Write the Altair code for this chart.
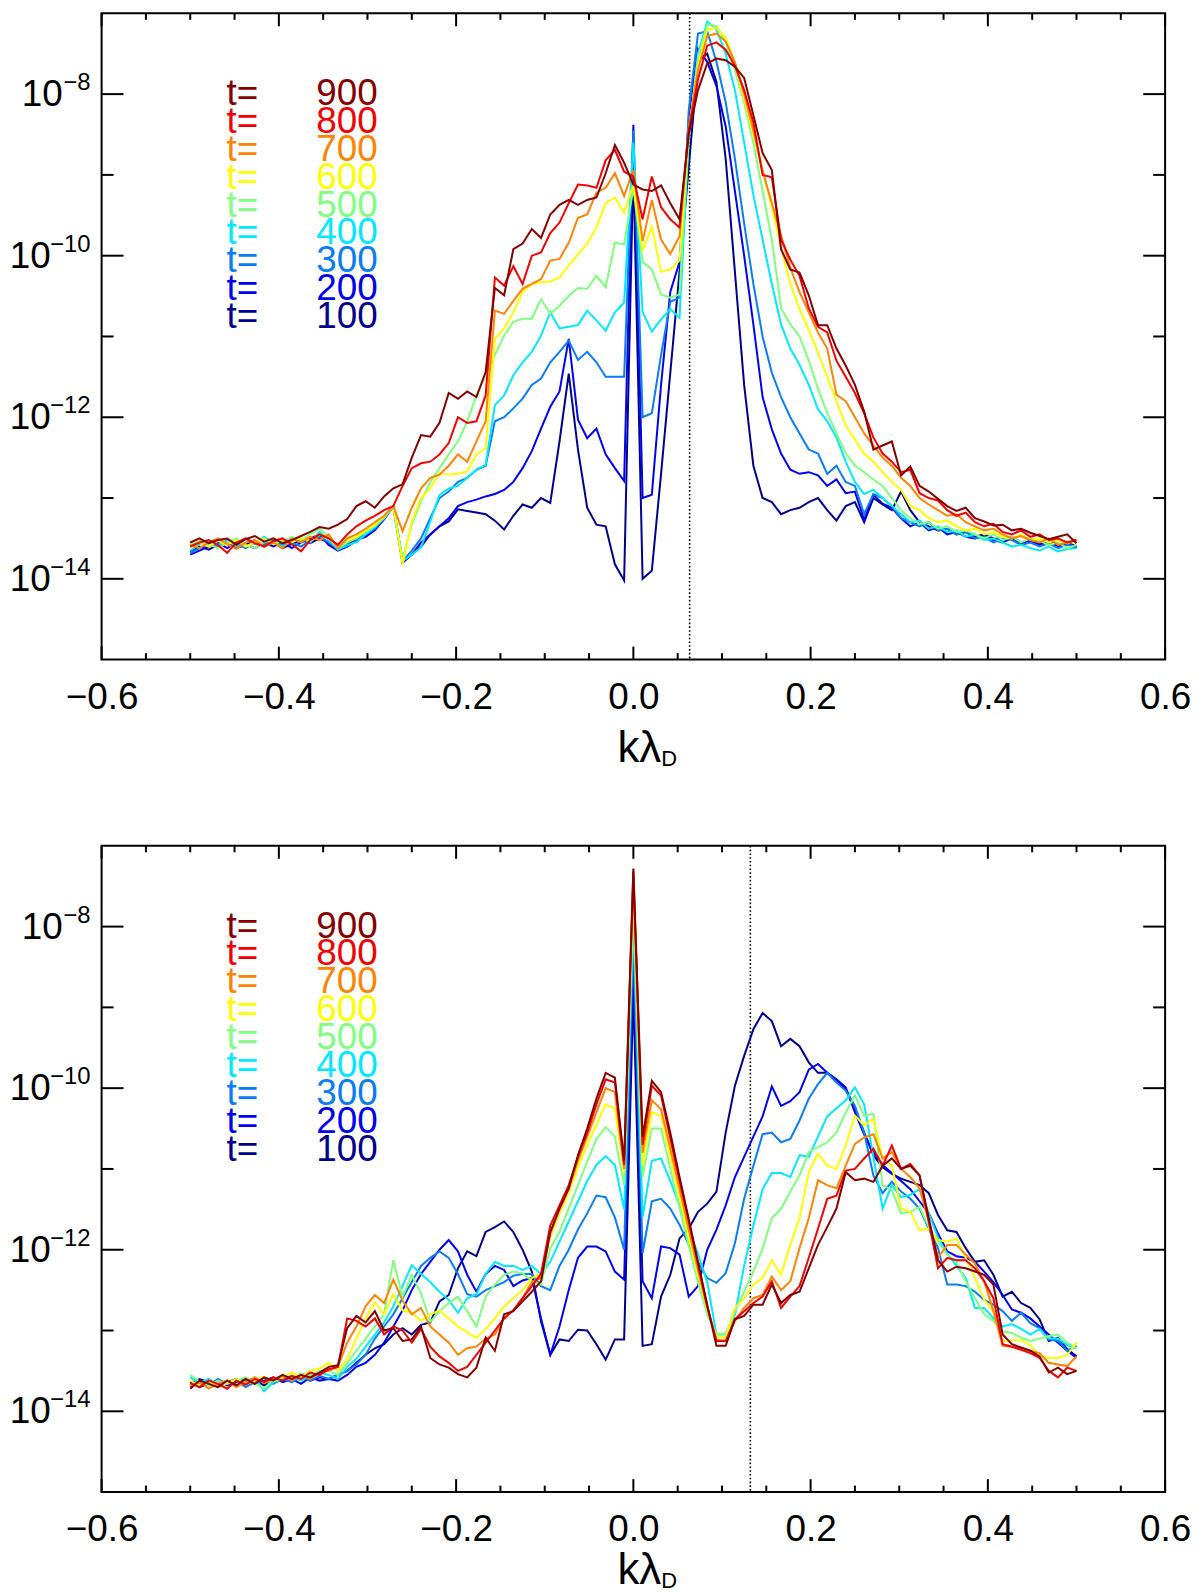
import altair as alt
import pandas as pd

FONT = "Liberation Sans"

# wavenumber grid k = n/96, n = -48..48
N_IDX = list(range(-48, 49))
K = [n / 96 for n in N_IDX]
TIMES = [100, 200, 300, 400, 500, 600, 700, 800, 900]
COLORS = ["#00008a", "#0000f0", "#0a7cf5", "#00e8ff", "#80ff80",
          "#ffff00", "#ff8400", "#f00000", "#840000"]

# ---- top panel, log10 of spectrum ----
top_t900 = [
    -13.55, -13.50, -13.56, -13.52, -13.50, -13.58, -13.51, -13.47, -13.54, -13.50, -13.56, -13.52, -13.47, -13.42, -13.36, -13.38, -13.33, -13.26, -13.10, -13.04, -13.12, -12.98,
    -12.88, -12.83, -12.50, -12.22, -12.24, -12.07, -11.70, -11.77, -11.68, -11.75, -11.44, -10.40, -10.49, -9.92, -9.85, -9.67, -9.78, -9.49, -9.37, -9.31, -9.37, -9.31, -9.28, -8.98, -8.63, -8.85,
    -9.12,
    -9.18, -9.20, -9.13, -9.35, -9.55, -8.50, -7.95, -7.62, -7.56, -7.58, -7.66, -7.80, -8.26, -8.73, -8.94, -9.92, -10.17, -10.21, -10.49, -10.86, -10.86, -11.15, -11.36, -11.60,
    -11.93, -12.40, -12.35, -12.30, -12.72, -12.61, -12.85, -12.92, -13.01, -13.10, -13.16, -13.12, -13.25, -13.29, -13.34, -13.33, -13.40, -13.38, -13.43, -13.47, -13.51, -13.48, -13.45, -13.56]
top_t800 = [
    -13.60, -13.55, -13.52, -13.58, -13.68, -13.55, -13.50, -13.56, -13.60, -13.53, -13.50, -13.57, -13.66, -13.52, -13.45, -13.50, -13.58, -13.45, -13.35, -13.28, -13.22, -13.15,
    -13.10, -12.85, -12.63, -12.57, -12.55, -12.46, -12.32, -12.00, -12.07, -12.05, -11.73, -10.27, -10.37, -10.13, -10.35, -10.00, -9.96, -9.72, -9.59, -9.35, -9.12, -9.13, -9.16, -8.82, -8.69, -8.96,
    -9.02,
    -9.55, -9.02, -9.40, -9.55, -9.65, -8.45, -7.82, -7.40, -7.36, -7.45, -7.65, -7.95, -8.35, -9.00, -9.03, -9.80, -10.05, -10.25, -10.65, -10.88, -10.95, -11.30, -11.50, -11.70,
    -11.95, -12.25, -12.45, -12.55, -12.68, -12.65, -12.94, -13.00, -13.03, -13.15, -13.22, -13.18, -13.30, -13.35, -13.32, -13.42, -13.45, -13.40, -13.48, -13.45, -13.52, -13.50, -13.55, -13.52]
top_t700 = [
    -13.58, -13.62, -13.55, -13.50, -13.57, -13.63, -13.55, -13.52, -13.60, -13.55, -13.62, -13.50, -13.55, -13.48, -13.52, -13.45, -13.62, -13.50, -13.45, -13.38, -13.30, -13.22,
    -13.10, -13.41, -13.12, -12.88, -12.75, -12.71, -12.60, -12.46, -12.55, -12.30, -12.05, -10.68, -10.72, -10.56, -10.41, -10.35, -10.29, -10.06, -10.04, -9.84, -9.53, -9.49, -9.22, -9.16, -8.98, -9.26,
    -8.94,
    -9.82, -9.31, -9.80, -9.98, -9.76, -8.42, -7.70, -7.28, -7.25, -7.35, -7.60, -8.00, -8.45, -8.95, -9.35, -9.75, -10.15, -10.45, -10.70, -10.95, -11.15, -11.72, -11.80, -12.00,
    -12.20, -12.35, -12.50, -12.60, -12.75, -12.85, -13.00, -13.08, -13.15, -13.22, -13.20, -13.30, -13.35, -13.40, -13.38, -13.45, -13.50, -13.47, -13.52, -13.55, -13.50, -13.58, -13.55, -13.52]
top_t600 = [
    -13.62, -13.55, -13.60, -13.53, -13.58, -13.52, -13.60, -13.55, -13.50, -13.57, -13.52, -13.55, -13.49, -13.53, -13.45, -13.50, -13.60, -13.52, -13.48, -13.40, -13.33, -13.22,
    -13.10, -13.82, -13.29, -13.00, -12.88, -12.69, -12.71, -12.70, -12.67, -12.46, -12.38, -11.03, -10.90, -10.70, -10.45, -10.35, -10.33, -10.32, -10.27, -10.12, -9.98, -9.85, -9.65, -9.35, -9.28, -9.47,
    -9.12,
    -9.94, -9.64, -10.20, -10.17, -10.06, -8.45, -7.65, -7.20, -7.18, -7.30, -7.62, -8.05, -8.50, -8.95, -9.40, -9.90, -10.35, -10.66, -10.92, -11.20, -11.50, -11.80, -12.10, -12.28,
    -12.45, -12.55, -12.68, -12.80, -12.90, -13.10, -13.15, -13.25, -13.30, -13.28, -13.35, -13.40, -13.38, -13.45, -13.42, -13.48, -13.50, -13.45, -13.52, -13.50, -13.55, -13.52, -13.56, -13.53]
top_t500 = [
    -13.58, -13.53, -13.57, -13.62, -13.55, -13.50, -13.58, -13.62, -13.55, -13.50, -13.54, -13.48, -13.52, -13.45, -13.38, -13.48, -13.62, -13.55, -13.50, -13.42, -13.35, -13.25,
    -13.10, -13.75, -13.33, -13.04, -12.80, -12.63, -12.46, -12.30, -12.05, -11.73, -11.48, -11.23, -10.99, -10.82, -10.78, -10.78, -10.54, -10.72, -10.62, -10.50, -10.40, -10.41, -10.25, -10.39, -9.84, -9.86,
    -9.16,
    -10.08, -10.17, -10.48, -10.52, -10.48, -8.50, -7.55, -7.14, -7.16, -7.35, -7.70, -8.10, -8.60, -9.20, -9.80, -10.65, -10.85, -11.00, -11.30, -11.65, -11.95, -12.20, -12.45, -12.60,
    -12.68, -12.77, -12.85, -13.00, -13.15, -13.25, -13.32, -13.30, -13.38, -13.35, -13.42, -13.40, -13.45, -13.50, -13.45, -13.52, -13.48, -13.55, -13.50, -13.53, -13.58, -13.55, -13.62, -13.58]
top_t400 = [
    -13.65, -13.57, -13.52, -13.58, -13.53, -13.60, -13.50, -13.57, -13.48, -13.55, -13.60, -13.53, -13.50, -13.55, -13.42, -13.52, -13.64, -13.58, -13.55, -13.45, -13.36, -13.24,
    -13.10, -13.78, -13.70, -13.61, -13.29, -12.96, -12.88, -12.85, -12.75, -12.65, -12.59, -11.85, -11.73, -11.48, -11.32, -11.19, -10.99, -10.70, -10.90, -10.88, -10.86, -10.68, -10.80, -10.93, -10.70, -10.58,
    -8.60,
    -10.70, -10.94, -10.79, -10.66, -10.77, -8.55, -7.50, -7.10, -7.20, -7.50, -7.95, -8.60, -9.25, -9.80, -10.35, -10.85, -11.15, -11.35, -11.60, -11.90, -12.05, -12.25, -12.55, -12.80,
    -12.95, -12.90, -13.00, -13.10, -13.20, -13.30, -13.28, -13.38, -13.35, -13.42, -13.40, -13.48, -13.45, -13.52, -13.50, -13.55, -13.60, -13.58, -13.62, -13.65, -13.60, -13.66, -13.63, -13.62]
top_t300 = [
    -13.68, -13.62, -13.57, -13.60, -13.52, -13.57, -13.62, -13.55, -13.58, -13.52, -13.58, -13.55, -13.60, -13.52, -13.48, -13.55, -13.62, -13.60, -13.53, -13.45, -13.38, -13.25,
    -13.10, -13.78, -13.65, -13.50, -13.25, -13.00, -12.92, -12.80, -12.75, -12.65, -12.60, -12.05, -12.00, -11.89, -11.77, -11.60, -11.52, -11.32, -11.19, -11.05, -11.29, -11.19, -11.32, -11.50, -11.50, -11.50,
    -8.45,
    -12.00, -11.95, -11.23, -10.57, -10.52, -8.20, -7.25, -7.22, -7.60, -8.10, -8.80, -9.60, -10.35, -11.00, -11.45, -11.75, -12.00, -12.20, -12.40, -12.45, -12.70, -12.60, -12.80, -12.85,
    -13.20, -12.95, -13.00, -13.10, -13.25, -13.30, -13.35, -13.30, -13.40, -13.38, -13.45, -13.42, -13.50, -13.48, -13.55, -13.50, -13.52, -13.58, -13.55, -13.60, -13.56, -13.62, -13.58, -13.60]
top_t200 = [
    -13.70, -13.65, -13.60, -13.55, -13.62, -13.55, -13.58, -13.62, -13.55, -13.60, -13.55, -13.62, -13.55, -13.50, -13.45, -13.58, -13.65, -13.60, -13.52, -13.48, -13.40, -13.26,
    -13.10, -13.80, -13.70, -13.55, -13.45, -13.35, -13.25, -13.10, -13.05, -13.02, -12.98, -12.95, -12.90, -12.80, -12.63, -12.42, -12.14, -11.87, -11.68, -11.03, -12.03, -12.26, -12.14, -12.46, -12.63, -12.79,
    -8.38,
    -13.00, -12.96, -11.60, -10.45, -10.08, -8.30, -7.44, -7.60, -7.90, -8.40, -9.20, -10.00, -10.85, -11.75, -12.15, -12.45, -12.65, -12.70, -12.68, -12.72, -12.85, -12.77, -12.94, -12.92,
    -13.27, -12.96, -13.07, -13.12, -13.25, -13.35, -13.30, -13.40, -13.36, -13.45, -13.42, -13.48, -13.50, -13.46, -13.52, -13.55, -13.50, -13.56, -13.53, -13.58, -13.55, -13.60, -13.57, -13.62]
top_t100 = [
    -13.66, -13.60, -13.64, -13.58, -13.55, -13.62, -13.58, -13.52, -13.60, -13.55, -13.62, -13.57, -13.52, -13.56, -13.50, -13.55, -13.63, -13.58, -13.50, -13.46, -13.38, -13.26,
    -13.10, -13.80, -13.70, -13.60, -13.45, -13.35, -13.29, -13.14, -13.16, -13.18, -13.20, -13.28, -13.39, -13.22, -13.08, -13.12, -13.00, -13.06, -12.30, -11.46, -12.40, -13.12, -13.33, -13.35, -13.82, -14.02,
    -8.90,
    -14.00, -13.90, -12.70, -11.45, -10.20, -8.90, -7.60, -7.50, -7.85, -8.80, -10.20, -11.60, -12.60, -13.00, -13.05, -13.20, -13.15, -13.12, -13.05, -13.00, -13.15, -13.28, -13.10, -13.05,
    -13.30, -13.00, -13.08, -13.15, -12.92, -13.15, -13.30, -13.35, -13.40, -13.38, -13.45, -13.42, -13.48, -13.45, -13.50, -13.52, -13.48, -13.55, -13.52, -13.57, -13.54, -13.58, -13.55, -13.60]

# ---- bottom panel, log10 of spectrum ----
bot_t900 = [
    -13.72, -13.62, -13.66, -13.70, -13.62, -13.68, -13.60, -13.66, -13.58, -13.62, -13.55, -13.60, -13.55, -13.58, -13.52, -13.45,
    -13.43, -12.97, -12.82, -12.90, -12.76, -13.00, -12.97, -13.13, -13.11, -12.95, -13.34, -13.42, -13.46, -13.54, -13.58, -13.46,
    -13.09, -13.25, -12.80, -12.76, -12.64, -12.52, -12.39, -11.78, -11.49, -11.24, -10.83, -10.50, -10.13, -9.81, -9.87, -10.90,
    -7.28,
    -10.60, -9.91, -10.05, -10.55, -11.10, -11.62, -12.15, -12.68, -13.19, -13.19, -12.86, -12.82, -12.68, -12.68, -12.43, -12.66, -12.56, -12.52, -12.23, -11.94, -11.72, -11.49, -11.04, -11.14,
    -11.12, -11.16, -10.96, -10.87, -11.00, -10.96, -11.08, -11.61, -12.13, -12.27, -12.21, -12.23, -12.27, -12.31, -12.43, -13.05, -13.17, -13.21, -13.25, -13.32, -13.52, -13.46, -13.54, -13.50]
bot_t800 = [
    -13.65, -13.70, -13.62, -13.66, -13.72, -13.62, -13.67, -13.60, -13.64, -13.58, -13.62, -13.56, -13.60, -13.52, -13.55, -13.48,
    -13.45, -12.85, -12.88, -12.95, -12.85, -13.05, -12.95, -13.00, -13.15, -12.98, -13.20, -13.32, -13.40, -13.50, -13.45, -13.30,
    -13.15, -13.00, -12.85, -12.75, -12.60, -12.45, -12.30, -11.70, -11.45, -11.20, -10.85, -10.55, -10.20, -9.89, -9.93, -10.95,
    -7.32,
    -10.70, -9.97, -10.09, -10.62, -11.15, -11.65, -12.18, -12.70, -13.13, -13.13, -12.86, -12.76, -12.66, -12.58, -12.39, -12.72, -12.58, -12.45, -12.10, -11.74, -11.37, -11.33, -11.02, -11.00,
    -10.87, -10.75, -10.96, -10.71, -11.00, -10.94, -11.08, -11.65, -12.23, -12.10, -12.13, -12.13, -12.23, -12.39, -12.60, -13.17, -13.20, -13.24, -13.28, -13.34, -13.50, -13.58, -13.46, -13.50]
bot_t700 = [
    -13.68, -13.64, -13.72, -13.66, -13.62, -13.70, -13.64, -13.58, -13.65, -13.60, -13.56, -13.62, -13.55, -13.60, -13.52, -13.50,
    -13.45, -13.15, -12.95, -12.70, -12.56, -12.66, -12.37, -12.63, -12.80, -12.72, -12.95, -13.05, -13.15, -13.30, -13.22, -13.20,
    -13.10, -13.05, -12.85, -12.75, -12.60, -12.40, -12.35, -11.80, -11.50, -11.25, -10.90, -10.60, -10.30, -10.00, -10.05, -11.00,
    -7.40,
    -10.80, -10.15, -10.26, -10.75, -11.25, -11.75, -12.25, -12.72, -13.11, -13.13, -12.88, -12.72, -12.60, -12.56, -12.33, -12.50, -12.39, -11.98, -11.61, -11.14, -11.20, -11.24, -10.96, -10.69,
    -10.61, -10.57, -10.87, -10.79, -11.00, -11.10, -11.24, -11.65, -12.10, -11.94, -11.94, -12.06, -12.17, -12.39, -12.76, -13.19, -13.20, -13.22, -13.25, -13.28, -13.40, -13.42, -13.44, -13.32]
bot_t600 = [
    -13.62, -13.68, -13.63, -13.70, -13.65, -13.60, -13.66, -13.62, -13.57, -13.63, -13.58, -13.52, -13.58, -13.50, -13.47, -13.40,
    -13.50, -13.35, -13.10, -12.85, -12.65, -12.80, -12.55, -12.75, -12.78, -12.88, -12.80, -12.75, -12.85, -12.95, -13.02, -13.09,
    -12.98, -12.85, -12.70, -12.60, -12.50, -12.35, -12.30, -11.85, -11.55, -11.30, -10.98, -10.70, -10.45, -10.20, -10.25, -11.05,
    -7.55,
    -10.95, -10.30, -10.34, -10.85, -11.35, -11.85, -12.30, -12.75, -13.07, -13.09, -12.72, -12.60, -12.43, -12.35, -12.13, -12.31, -11.94, -11.61, -11.04, -10.81, -10.96, -11.00, -10.71, -10.34,
    -10.46, -10.38, -10.87, -10.96, -11.49, -11.53, -11.76, -11.74, -11.88, -11.90, -11.86, -12.10, -12.35, -12.62, -12.76, -13.13, -13.12, -13.12, -13.18, -13.32, -13.34, -13.34, -13.30, -13.15]
bot_t500 = [
    -13.55, -13.63, -13.68, -13.62, -13.66, -13.62, -13.58, -13.65, -13.72, -13.60, -13.56, -13.60, -13.53, -13.56, -13.50, -13.50,
    -13.55, -13.40, -13.25, -13.10, -12.95, -12.80, -12.13, -12.58, -12.31, -12.54, -12.89, -12.76, -12.66, -12.58, -12.76, -12.95,
    -12.58, -12.43, -12.31, -12.27, -12.29, -12.39, -12.43, -11.98, -11.78, -11.49, -11.20, -10.91, -10.63, -10.48, -10.60, -11.20,
    -7.70,
    -11.10, -10.50, -10.50, -11.00, -11.48, -11.95, -12.40, -12.80, -13.05, -13.04, -12.76, -12.52, -12.27, -11.98, -11.61, -11.49, -11.28, -11.08, -10.79, -10.73, -10.67, -10.55, -10.30, -10.09,
    -10.34, -10.32, -11.20, -11.26, -11.55, -11.53, -11.47, -11.72, -11.90, -12.06, -12.15, -12.39, -12.60, -12.80, -12.88, -13.01, -13.03, -13.09, -13.13, -13.10, -13.07, -13.05, -13.15, -13.22]
bot_t400 = [
    -13.58, -13.65, -13.60, -13.67, -13.62, -13.68, -13.63, -13.58, -13.75, -13.64, -13.60, -13.56, -13.62, -13.55, -13.52, -13.55,
    -13.60, -13.45, -13.35, -13.20, -13.05, -12.90, -12.70, -12.45, -12.19, -12.30, -12.40, -12.52, -12.62, -12.78, -12.60, -12.55,
    -12.30, -12.15, -12.20, -12.20, -12.25, -12.20, -12.30, -12.15, -11.90, -11.65, -11.40, -11.15, -10.95, -10.84, -10.95, -11.50,
    -7.90,
    -11.60, -10.90, -10.87, -11.15, -11.45, -11.75, -12.05, -12.40, -13.05, -13.05, -12.80, -12.20, -11.70, -11.25, -11.05, -11.05, -11.10, -10.83, -10.85, -10.60, -10.35, -10.25, -10.15, -9.99,
    -10.20, -10.85, -11.49, -11.20, -11.35, -11.32, -11.25, -11.55, -11.85, -12.05, -12.20, -12.35, -12.72, -12.72, -12.85, -12.95, -12.92, -12.98, -13.05, -12.98, -13.10, -13.10, -13.18, -13.22]
bot_t300 = [
    -13.70, -13.63, -13.68, -13.60, -13.66, -13.62, -13.70, -13.64, -13.58, -13.66, -13.60, -13.64, -13.58, -13.62, -13.56, -13.60,
    -13.55, -13.50, -13.42, -13.30, -13.10, -12.95, -12.80, -12.60, -12.40, -12.20, -12.10, -12.02, -12.10, -12.30, -12.55, -12.58,
    -12.50, -12.45, -12.40, -12.32, -12.30, -12.30, -12.45, -12.50, -12.20, -12.00, -11.75, -11.55, -11.33, -11.35, -11.60, -12.00,
    -8.10,
    -12.04, -11.40, -11.37, -11.49, -11.69, -11.94, -12.15, -12.35, -12.41, -12.29, -11.92, -11.37, -10.96, -10.57, -10.55, -10.67, -10.63, -10.40, -10.13, -9.95, -9.81, -9.93, -10.03, -10.22,
    -10.55, -11.08, -11.30, -11.16, -11.28, -11.37, -11.49, -11.74, -11.98, -12.43, -12.43, -12.45, -12.52, -12.62, -12.68, -12.76, -12.88, -12.78, -12.91, -12.97, -13.11, -13.13, -13.25, -13.19]
bot_t200 = [
    -13.64, -13.70, -13.66, -13.62, -13.68, -13.64, -13.60, -13.66, -13.62, -13.58, -13.64, -13.60, -13.66, -13.58, -13.62, -13.60,
    -13.62, -13.55, -13.45, -13.40, -13.30, -13.15, -12.95, -12.75, -12.50, -12.30, -12.15, -12.00, -11.88, -12.02, -12.31, -12.52,
    -12.30, -12.20, -12.25, -12.45, -12.38, -12.35, -12.85, -13.30, -12.95, -12.50, -12.10, -11.96, -11.96, -12.02, -12.27, -12.37,
    -8.40,
    -12.39, -12.60, -11.96, -11.98, -12.06, -12.58, -12.45, -12.00, -11.75, -11.45, -11.10, -10.85, -10.60, -10.35, -9.98, -10.22, -10.16, -10.05, -9.77, -9.70, -9.81, -9.89, -9.99, -10.30,
    -10.57, -10.79, -10.95, -11.05, -11.15, -11.25, -11.40, -11.55, -11.80, -12.02, -12.08, -12.10, -12.15, -12.27, -12.40, -12.56, -12.74, -12.78, -12.85, -12.95, -13.05, -13.15, -13.25, -13.34]
bot_t100 = [
    -13.66, -13.60, -13.64, -13.70, -13.64, -13.60, -13.66, -13.62, -13.68, -13.62, -13.58, -13.63, -13.57, -13.62, -13.58, -13.60,
    -13.55, -13.50, -13.40, -13.30, -13.22, -13.17, -13.05, -12.97, -13.05, -12.93, -12.90, -12.64, -12.56, -12.23, -12.02, -12.08,
    -11.78, -11.72, -11.65, -11.78, -12.00, -12.27, -12.89, -13.30, -13.11, -13.13, -12.99, -13.00, -13.17, -13.36, -13.11, -13.11,
    -8.80,
    -13.19, -13.17, -12.58, -12.31, -11.86, -11.74, -11.53, -11.43, -11.28, -10.55, -9.97, -9.60, -9.27, -9.07, -9.17, -9.48, -9.39, -9.48, -9.68, -9.81, -9.81, -9.90, -10.01, -10.24,
    -10.55, -10.83, -10.98, -11.06, -11.12, -11.16, -11.20, -11.30, -11.57, -11.76, -11.78, -11.98, -12.15, -12.13, -12.31, -12.58, -12.52, -12.66, -12.72, -12.86, -13.13, -13.09, -13.23, -13.32]

TOP = [top_t100, top_t200, top_t300, top_t400, top_t500, top_t600, top_t700, top_t800, top_t900]
BOT = [bot_t100, bot_t200, bot_t300, bot_t400, bot_t500, bot_t600, bot_t700, bot_t800, bot_t900]

X_LABELS = [-0.6, -0.4, -0.2, 0.0, 0.2, 0.4, 0.6]
Y_LABEL_EXP = [-14, -12, -10, -8]
DOTTED = [0.0635, 0.132]
LEGEND_TIMES = [900, 800, 700, 600, 500, 400, 300, 200, 100]

W, H = 1068, 649


def panel(series, kdot, title_off):
    rows = []
    for t, vals in zip(TIMES, series):
        assert len(vals) == 97, (t, len(vals))
        for k, lv in zip(K, vals):
            rows.append({"k": k, "v": 10 ** lv, "t": t})
    df = pd.DataFrame(rows)

    xs = alt.Scale(domain=[-0.6, 0.6], nice=False, zero=False)
    ys = alt.Scale(type="log", domain=[1e-15, 1e-7], nice=False)
    xax = alt.Axis(values=X_LABELS, format=".1f", labelFont=FONT, labelFontSize=37,
                   labelColor="black", ticks=False, domain=False, grid=False,
                   labelPadding=20, labelFlush=False, labelOverlap=False, title=None)
    X = alt.X("k:Q", scale=xs, axis=xax)
    Y = alt.Y("v:Q", scale=ys, axis=None)

    layers = []
    # dotted reference line
    layers.append(alt.Chart(pd.DataFrame({"k": [kdot]})).mark_rule(
        color="black", strokeWidth=1.6, strokeDash=[1.6, 2.2]).encode(
        x=X, y=alt.value(0), y2=alt.value(H)))
    # spectra, t=100 drawn first
    for t, c in zip(TIMES, COLORS):
        layers.append(alt.Chart(df).transform_filter(alt.datum.t == t).mark_line(
            color=c, strokeWidth=2).encode(x=X, y=Y))

    # inward ticks
    xt = pd.DataFrame({"k": [round(-0.6 + 0.05 * i, 2) for i in range(25)],
                       "major": [i % 4 == 0 for i in range(25)]})
    for flt, ln in (("datum.major", 13), ("!datum.major", 6.5)):
        base = alt.Chart(xt).transform_filter(flt).mark_rule(color="black", strokeWidth=2)
        layers.append(base.encode(x=X, y=alt.value(H), y2=alt.value(H - ln)))
        layers.append(base.encode(x=X, y=alt.value(0), y2=alt.value(ln)))
    yt = pd.DataFrame({"v": [10.0 ** e for e in range(-14, -7)],
                       "major": [e % 2 == 0 for e in range(-14, -7)]})
    for flt, ln in (("datum.major", 22), ("!datum.major", 12)):
        base = alt.Chart(yt).transform_filter(flt).mark_rule(color="black", strokeWidth=2)
        layers.append(base.encode(y=Y, x=alt.value(0), x2=alt.value(ln)))
        layers.append(base.encode(y=Y, x=alt.value(W - ln), x2=alt.value(W)))

    # y tick labels 10^e
    yl = pd.DataFrame({"v": [10.0 ** e for e in Y_LABEL_EXP],
                       "exp": ["\u2212" + str(-e) for e in Y_LABEL_EXP],
                       "long": [e <= -10 for e in Y_LABEL_EXP]})
    for flt, off in (("datum.long", -51), ("!datum.long", -39)):
        layers.append(alt.Chart(yl).transform_filter(flt).mark_text(
            text="10", align="right", baseline="middle", font=FONT, fontSize=37,
            color="black", dy=1).encode(y=Y, x=alt.value(off)))
    layers.append(alt.Chart(yl).mark_text(
        align="right", baseline="middle", font=FONT, fontSize=24, color="black",
        dy=-11).encode(y=Y, x=alt.value(-11), text="exp:N"))

    # in-plot legend
    leg_v = [10 ** (-8 - 0.345 * i) for i in range(len(LEGEND_TIMES))]
    cscale = alt.Scale(domain=TIMES, range=COLORS)
    leg1 = pd.DataFrame({"k": [-0.459] * 9, "v": leg_v, "t": LEGEND_TIMES, "s": ["t="] * 9})
    leg2 = pd.DataFrame({"k": [-0.2885] * 9, "v": leg_v, "t": LEGEND_TIMES,
                         "s": [str(t) for t in LEGEND_TIMES]})
    layers.append(alt.Chart(leg1).mark_text(align="left", baseline="middle", font=FONT,
                                            fontSize=37).encode(
        x=X, y=Y, text="s:N", color=alt.Color("t:O", scale=cscale, legend=None)))
    layers.append(alt.Chart(leg2).mark_text(align="right", baseline="middle", font=FONT,
                                            fontSize=37).encode(
        x=X, y=Y, text="s:N", color=alt.Color("t:O", scale=cscale, legend=None)))

    # axis title k lambda_D
    dummy = pd.DataFrame({"a": [0]})
    layers.append(alt.Chart(dummy).mark_text(text="k\u03bb", align="right", baseline="alphabetic",
                                             font=FONT, fontSize=44, color="black").encode(
        x=alt.value(W / 2 + 28), y=alt.value(H + title_off)))
    layers.append(alt.Chart(dummy).mark_text(text="D", align="left", baseline="alphabetic",
                                             font=FONT, fontSize=22, color="black").encode(
        x=alt.value(W / 2 + 28), y=alt.value(H + title_off + 4)))

    return alt.layer(*layers).properties(width=W, height=H)


top = panel(TOP, DOTTED[0], 103)
bottom = panel(BOT, DOTTED[1], 92)

chart = alt.vconcat(top, bottom, spacing=187, bounds="flush").properties(
    padding=0, background="white").configure_view(stroke="black", strokeWidth=2)

chart.save("out.html", embed_options={"renderer": "svg", "actions": False})
